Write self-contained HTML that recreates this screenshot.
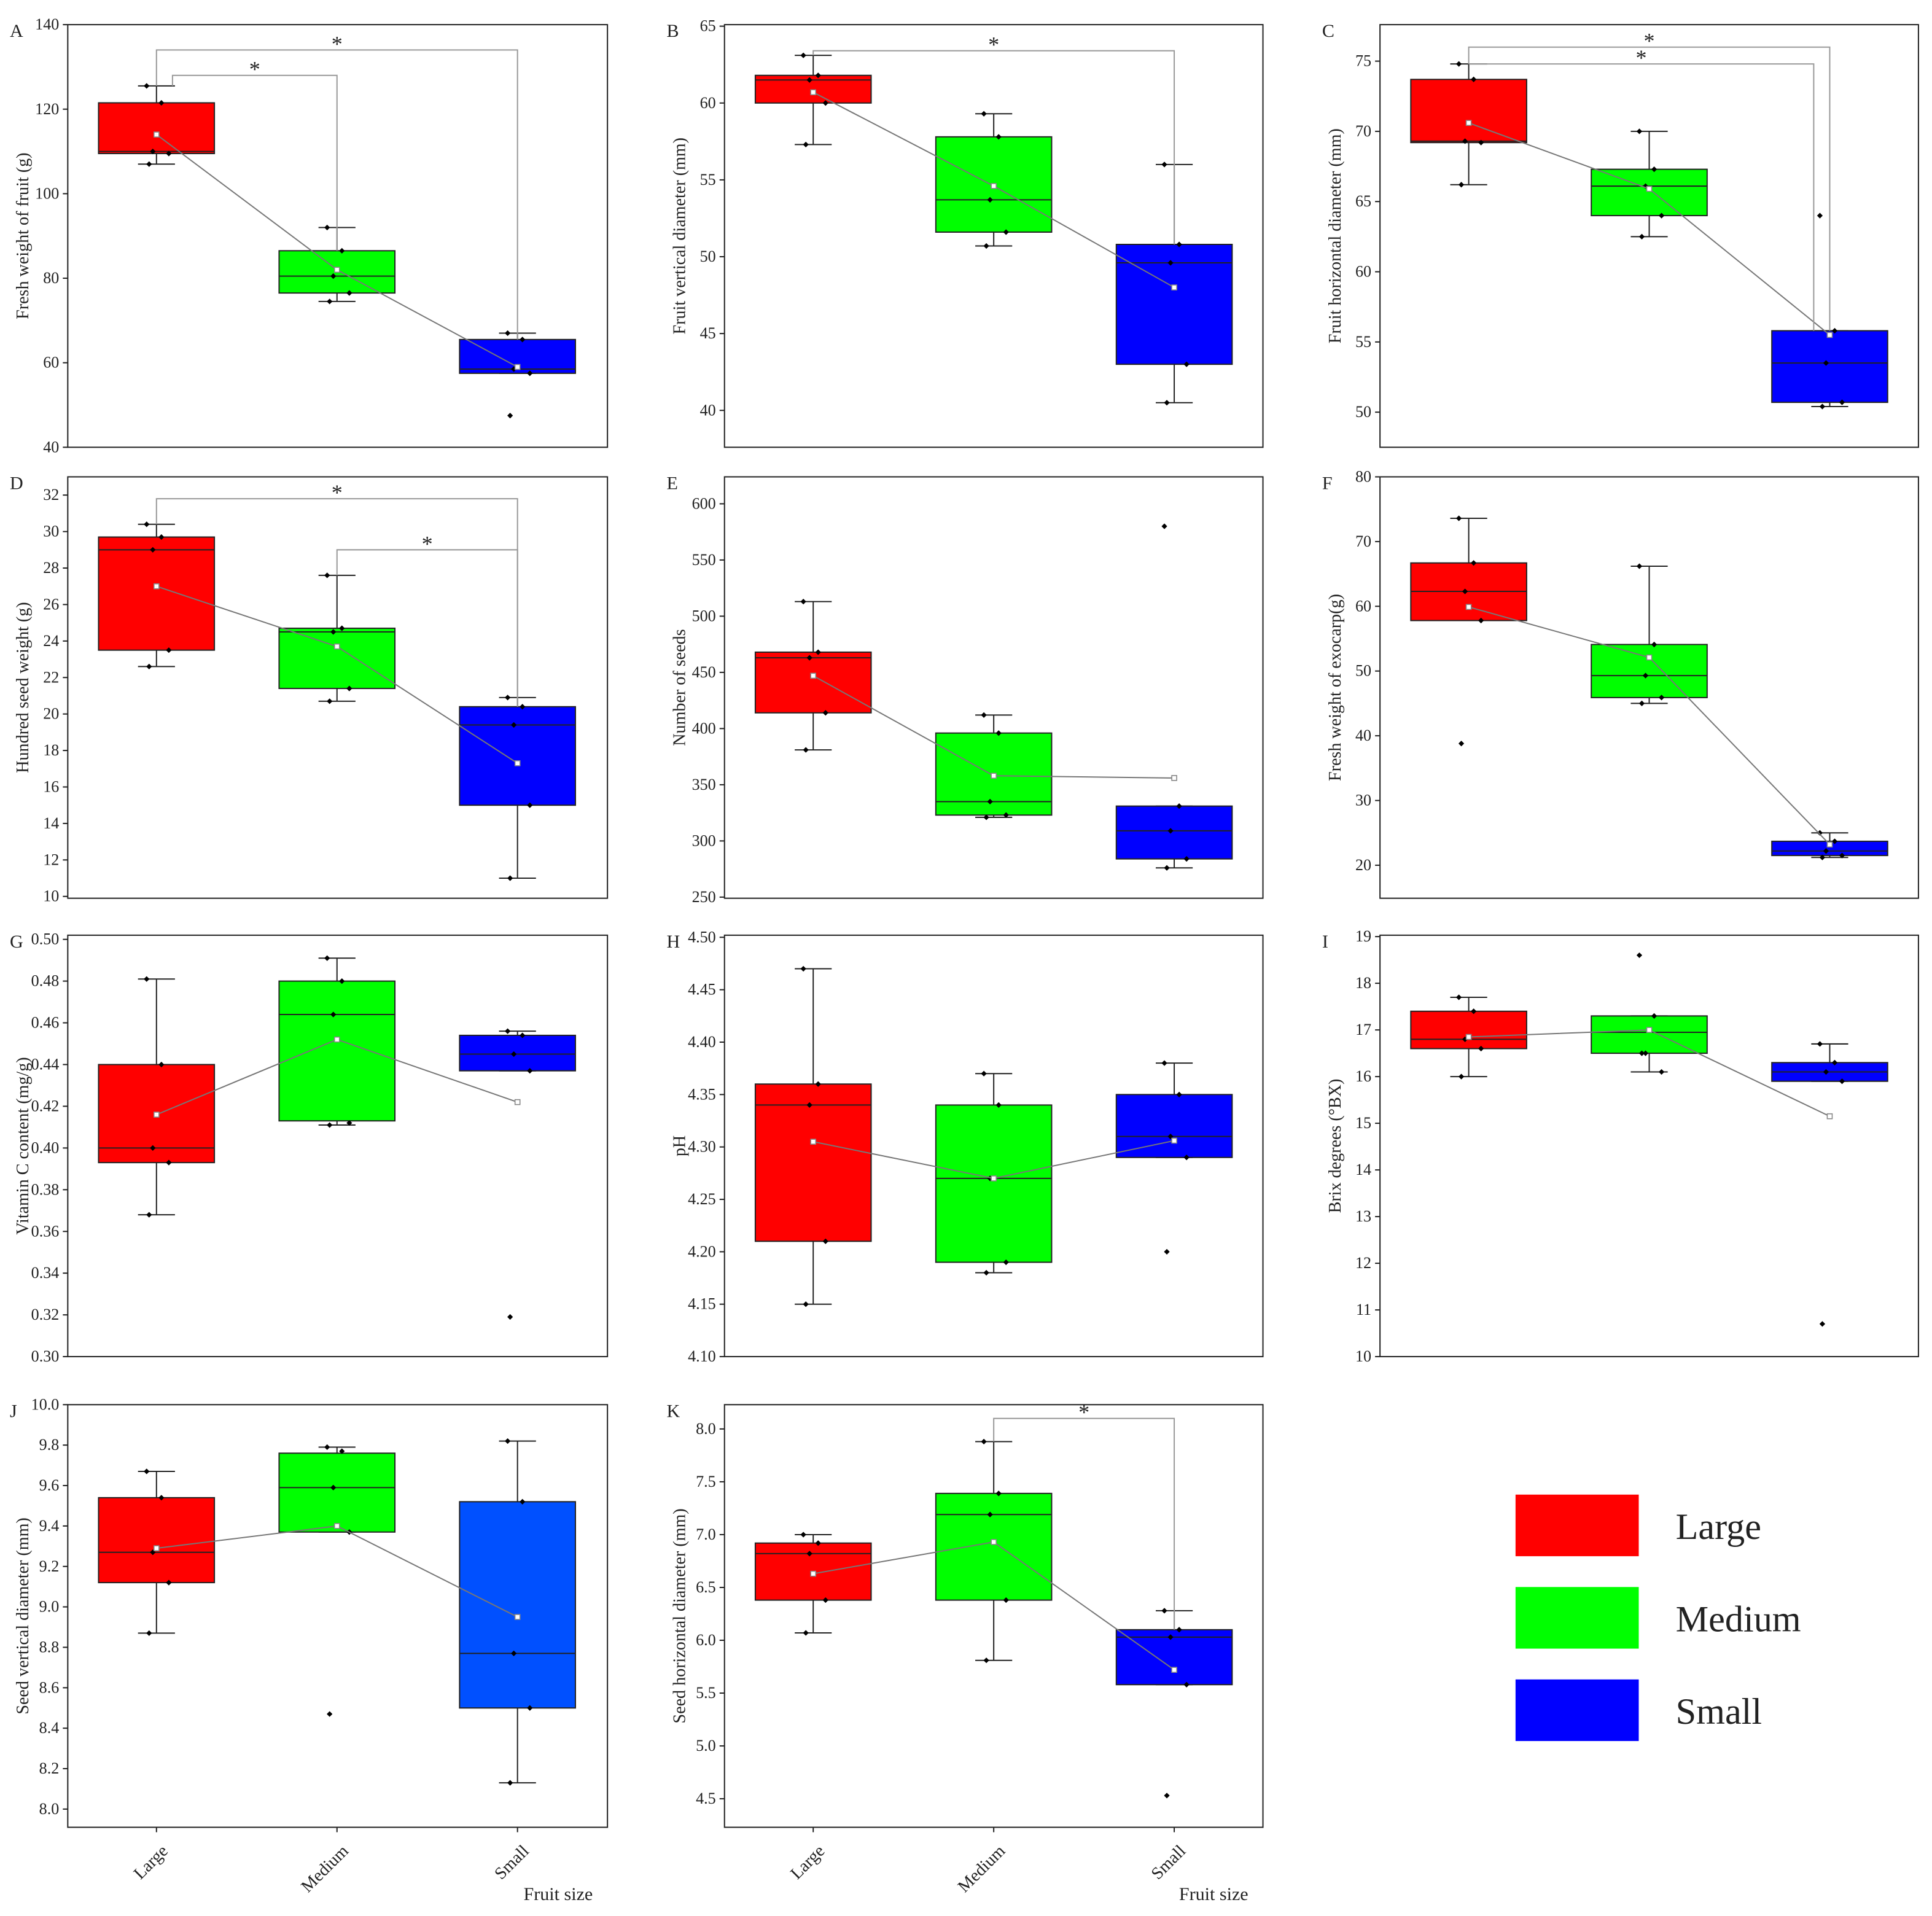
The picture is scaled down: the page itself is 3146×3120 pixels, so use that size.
<!DOCTYPE html>
<html><head><meta charset="utf-8"><style>
html,body{margin:0;padding:0;background:#fff}
svg{display:block}
text{font-family:"Liberation Serif",serif;fill:#222}
</style></head><body>
<svg id="fig" width="3146" height="3120" viewBox="0 0 1568 1555" preserveAspectRatio="none" xmlns="http://www.w3.org/2000/svg"></svg>
<script>
// ---- data ----
const categories = ["Large","Medium","Small"];
const panelLetters = ["A","B","C","D","E","F","G","H","I","J","K"];
const panelTitles = ["Fresh weight of fruit (g)","Fruit vertical diameter (mm)","Fruit horizontal diameter (mm)","Hundred seed weight (g)","Number of seeds","Fresh weight of exocarp(g)","Vitamin C content (mg/g)","pH","Brix degrees (°BX)","Seed vertical diameter (mm)","Seed horizontal diameter (mm)"];
const axisMin = [40,37.6,47.5,9.9,249,14.9,0.30,4.10,10,7.91,4.23];
const axisMax = [140,65.1,77.6,33.0,624,80,0.502,4.502,19.03,10.0,8.23];
const tickStart = [40,40,50,10,250,20,0.30,4.10,10,8.0,4.5];
const tickStep = [20,5,5,2,50,10,0.02,0.05,1,0.2,0.5];
const tickDecimals = [0,0,0,0,0,0,2,2,0,1,1];
// per panel, per group: [q1, median, q3, whiskerLow, whiskerHigh, mean]
const boxStats = [
 [[109.5,110,121.5,107,125.5,114],[76.5,80.5,86.5,74.5,92,82],[57.5,58.5,65.5,57.5,67,59]],
 [[60,61.5,61.8,57.3,63.1,60.7],[51.6,53.7,57.8,50.7,59.3,54.6],[43,49.6,50.8,40.5,56,48]],
 [[69.2,69.3,73.7,66.2,74.8,70.6],[64,66.1,67.3,62.5,70,65.9],[50.7,53.5,55.8,50.4,55.8,55.5]],
 [[23.5,29,29.7,22.6,30.4,27],[21.4,24.5,24.7,20.7,27.6,23.7],[15,19.4,20.4,11,20.9,17.3]],
 [[414,463,468,381,513,447],[323,335,396,321,412,358],[284,309,331,276,331,356]],
 [[57.8,62.3,66.7,57.8,73.6,59.9],[45.9,49.3,54.1,45,66.2,52.1],[21.5,22.2,23.7,21.2,25,23.2]],
 [[0.393,0.40,0.44,0.368,0.481,0.416],[0.413,0.464,0.48,0.411,0.491,0.452],[0.437,0.445,0.454,0.437,0.456,0.422]],
 [[4.21,4.34,4.36,4.15,4.47,4.305],[4.19,4.27,4.34,4.18,4.37,4.27],[4.29,4.31,4.35,4.29,4.38,4.306]],
 [[16.6,16.8,17.4,16.0,17.7,16.85],[16.5,16.95,17.3,16.1,17.3,17.0],[15.9,16.1,16.3,15.9,16.7,15.15]],
 [[9.12,9.27,9.54,8.87,9.67,9.29],[9.37,9.59,9.76,9.37,9.79,9.40],[8.50,8.77,9.52,8.13,9.82,8.95]],
 [[6.38,6.82,6.92,6.07,7.0,6.63],[6.38,7.19,7.39,5.81,7.88,6.93],[5.58,6.03,6.10,5.58,6.28,5.72]]
];
const points = [
 [[125.5,121.5,110,109.5,107],[92,86.5,80.5,76.5,74.5],[67,65.5,58.5,57.5,47.5]],
 [[63.1,61.8,61.5,60,57.3],[59.3,57.8,53.7,51.6,50.7],[56,50.8,49.6,43,40.5]],
 [[74.8,73.7,69.3,69.2,66.2],[70,67.3,66.1,64,62.5],[64,55.8,53.5,50.7,50.4]],
 [[30.4,29.7,29,23.5,22.6],[27.6,24.7,24.5,21.4,20.7],[20.9,20.4,19.4,15,11]],
 [[513,468,463,414,381],[412,396,335,323,321],[580,331,309,284,276]],
 [[73.6,66.7,62.3,57.8,38.8],[66.2,54.1,49.3,45.9,45],[25,23.7,22.2,21.5,21.2]],
 [[0.481,0.44,0.40,0.393,0.368],[0.491,0.48,0.464,0.412,0.411],[0.456,0.454,0.445,0.437,0.319]],
 [[4.47,4.36,4.34,4.21,4.15],[4.37,4.34,4.27,4.19,4.18],[4.38,4.35,4.31,4.29,4.20]],
 [[17.7,17.4,16.8,16.6,16.0],[18.6,17.3,16.5,16.1,16.5],[16.7,16.3,16.1,15.9,10.7]],
 [[9.67,9.54,9.27,9.12,8.87],[9.79,9.77,9.59,9.37,8.47],[9.82,9.52,8.77,8.50,8.13]],
 [[7.0,6.92,6.82,6.38,6.07],[7.88,7.39,7.19,6.38,5.81],[6.28,6.10,6.03,5.58,4.53]]
];
// significance: [panel, groupFrom, groupTo, value level]
const sigPairs = [[0,0,1,128],[0,0,2,134],[1,0,2,63.4],[2,0,2,76.0],[2,0,2,74.8],[3,0,2,31.8],[3,1,2,29.0],[10,1,2,8.1]];
const groupColors = ["#ff0000","#00ff00","#0000ff"];
// ---- layout ----
const NS="http://www.w3.org/2000/svg";
const svg=document.getElementById('fig');
const colX=[[55,493],[588,1025],[1120,1557]];
const rowY=[[20,363],[387,729],[759,1101],[1140,1483]];
function mk(tag,attrs,parent){const e=document.createElementNS(NS,tag);for(const k in attrs)e.setAttribute(k,attrs[k]);(parent||svg).appendChild(e);return e;}
for(let p=0;p<11;p++){
 const c=p%3,r=Math.floor(p/3);
 const [x0,x1]=colX[c],[y0,y1]=rowY[r];
 const g=mk('g',{});
 
 
 const ys=v=>y1-(v-axisMin[p])/(axisMax[p]-axisMin[p])*(y1-y0);
 const xs=i=>x0+72+i*146.5;
 const fr=mk('rect',{x:x0,y:y0,width:x1-x0,height:y1-y0,fill:'none',stroke:'#222','stroke-width':1},g);
 
 
 const lt=mk('text',{x:x0-47,y:y0+10,'font-size':15},g);lt.textContent=panelLetters[p];
 
 
 for(let v=tickStart[p];v<=axisMax[p]+1e-9;v+=tickStep[p]){
  const y=ys(v);
  mk('line',{x1:x0-4,x2:x0,y1:y,y2:y,stroke:'#222'},g);
  const t=mk('text',{x:x0-7,y:y+4,'font-size':13,'text-anchor':'end'},g);
  t.textContent=v.toFixed(tickDecimals[p]);
  
  
 }
 const ty=(y0+y1)/2;
 const yt=mk('text',{x:x0-32,y:ty,'font-size':14,'text-anchor':'middle',transform:`rotate(-90 ${x0-32} ${ty})`},g);
 yt.textContent=panelTitles[p];
 
 
 for(let i=0;i<3;i++){
  const s=boxStats[p][i],cx=xs(i),hw=47;
  mk('line',{x1:cx,x2:cx,y1:ys(s[4]),y2:ys(s[2]),stroke:'#222'},g);
  mk('line',{x1:cx,x2:cx,y1:ys(s[0]),y2:ys(s[3]),stroke:'#222'},g);
  mk('line',{x1:cx-15,x2:cx+15,y1:ys(s[4]),y2:ys(s[4]),stroke:'#222'},g);
  mk('line',{x1:cx-15,x2:cx+15,y1:ys(s[3]),y2:ys(s[3]),stroke:'#222'},g);
  const col=(p===9&&i===2)?'#0050ff':groupColors[i];
  const b=mk('rect',{x:cx-hw,y:ys(s[2]),width:hw*2,height:ys(s[0])-ys(s[2]),fill:col,stroke:'#222'},g);
  
  
  mk('line',{x1:cx-hw,x2:cx+hw,y1:ys(s[1]),y2:ys(s[1]),stroke:'#222'},g);
  points[p][i].forEach((v,k)=>{
   const px=cx+[-8,4,-3,10,-6][k],py=ys(v);
   const d=mk('path',{d:`M${px} ${py-2.3}L${px+2.3} ${py}L${px} ${py+2.3}L${px-2.3} ${py}Z`,fill:'#000'},g);
   
   
  });
 }
 let dstr='';for(let i=0;i<3;i++)dstr+=(i?'L':'M')+xs(i)+' '+ys(boxStats[p][i][5]);
 const ml=mk('path',{d:dstr,fill:'none',stroke:'#777','stroke-width':1},g);
 
 
 for(let i=0;i<3;i++){const y=ys(boxStats[p][i][5]);mk('rect',{x:xs(i)-2,y:y-2,width:4,height:4,fill:'#fff',stroke:'#888','stroke-width':0.8},g);}
 sigPairs.filter(s=>s[0]===p).forEach((s,k)=>{
  const y=ys(s[3]);const a=xs(s[1])+(p===0&&k===0?13:0),b=xs(s[2])-(p===2&&k===1?13:0);
  const sa=points[p][s[1]][0];
  const br=mk('path',{d:`M${a} ${ys(Math.max(sa,boxStats[p][s[1]][4]))}V${y}H${b}V${ys(boxStats[p][s[2]][2])}`,fill:'none',stroke:'#999'},g);
  
  
  const st=mk('text',{x:(a+b)/2,y:y+1,'font-size':18,'text-anchor':'middle'},g);st.textContent='*';
 });
 if(r===3){
  for(let i=0;i<3;i++){
   mk('line',{x1:xs(i),x2:xs(i),y1:y1,y2:y1+4,stroke:'#222'},g);
   const xl=mk('text',{x:xs(i)+10,y:y1+20,'font-size':14,'text-anchor':'end',transform:`rotate(-45 ${xs(i)+10} ${y1+20})`},g);
   xl.textContent=categories[i];
   
   
  }
  const xt=mk('text',{x:x1-40,y:1542,'font-size':15,'text-anchor':'middle'},g);xt.textContent='Fruit size';
  
  
 }
}
for(let i=0;i<3;i++){
 const y=1213+i*75;
 const lr=mk('rect',{x:1230,y:y,width:100,height:50,fill:groupColors[i]});
 
 
 const lt=mk('text',{x:1360,y:y+36,'font-size':30});lt.textContent=categories[i];
 
 
}
</script>
</body></html>
